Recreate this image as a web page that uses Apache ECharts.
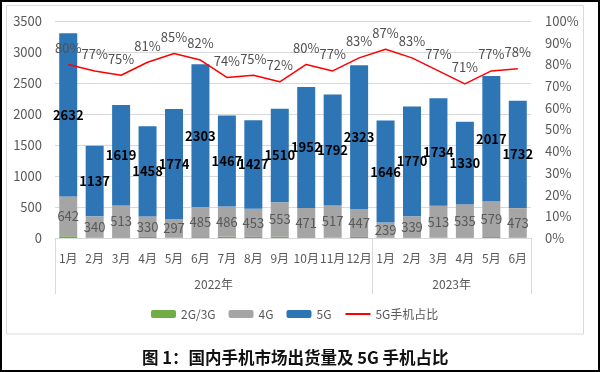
<!DOCTYPE html>
<html>
<head>
<meta charset="utf-8">
<script src="https://cdn.jsdelivr.net/npm/echarts@6/dist/echarts.min.js"></script>
<style>
html,body{margin:0;padding:0;background:#fff;}
#main{width:600px;height:372px;}
</style>
</head>
<body>
<div id="main"></div>
<script>
const months = ['1月','2月','3月','4月','5月','6月','7月','8月','9月','10月','11月','12月','1月','2月','3月','4月','5月','6月'];
const years = ['2022年','2023年'];
const yearSizes = [12, 6];
const g23 = [28,9,12,16,9,14,21,18,22,13,7,17,9,11,8,11,15,9];
const g4 = [642,340,513,330,297,485,486,453,553,471,517,447,239,339,513,535,579,473];
const g5 = [2632,1137,1619,1458,1774,2303,1467,1427,1510,1952,1792,2323,1646,1770,1734,1330,2017,1732];
const share5g = [80,77,75,81,85,82,74,75,72,80,77,83,87,83,77,71,77,78];
const yLeftTicks = {min:0, max:3500, interval:500};
const yRightTicks = {min:0, max:100, interval:10};
const titleText = '图 1：国内手机市场出货量及 5G 手机占比';

const groupStarts = [];
const groupCenters = [];
let acc = 0;
yearSizes.forEach(s => { groupStarts.push(acc); groupCenters.push(acc + s/2); acc += s; });

const FONT = '"Noto Sans CJK SC", "Noto Sans", sans-serif';
const GRAY = '#595959';
const chart = echarts.init(document.getElementById('main'), null, {renderer:'canvas'});
chart.setOption({
  animation: false,
  textStyle: {fontFamily: FONT},
  title: {
    text: titleText,
    left: 137, top: 344,
    textStyle: {fontSize: 16.5, fontWeight: 'bold', color: '#111', fontFamily: FONT}
  },
  graphic: [
    {type:'rect', shape:{x:1, y:1, width:598, height:370}, style:{fill:null, stroke:'#000', lineWidth:2}, silent:true},
    {type:'rect', shape:{x:6.5, y:5.5, width:577, height:328.5}, style:{fill:null, stroke:'#d9d9d9', lineWidth:1}, silent:true}
  ],
  legend: {
    left: 146, top: 303,
    itemWidth: 25, itemHeight: 8, itemGap: 13,
    textStyle: {fontSize: 12, color: GRAY, fontFamily: FONT},
    data: ['2G/3G','4G','5G',{name:'5G手机占比', itemStyle:{opacity:0}}]
  },
  grid: {left: 55, right: 69, top: 21, bottom: 134, containLabel: false},
  xAxis: [
    {
      type: 'category', data: months, position: 'bottom',
      axisLine: {lineStyle: {color: '#d9d9d9'}},
      axisTick: {show: false},
      axisLabel: {color: GRAY, fontSize: 12, margin: 14, interval: 0}
    },
    {
      type: 'category', data: months, position: 'bottom',
      axisLine: {show: false},
      axisLabel: {show: false},
      axisTick: {show: true, length: 56, lineStyle: {color: '#d9d9d9'},
        interval: function (i) { return groupStarts.indexOf(i) >= 0; }}
    },
    {
      type: 'value', min: 0, max: months.length, interval: 3, position: 'bottom',
      axisLine: {show: false}, axisTick: {show: false}, splitLine: {show: false},
      axisLabel: {color: GRAY, fontSize: 12, margin: 40,
        formatter: function (v) { const k = groupCenters.indexOf(v); return k >= 0 ? years[k] : ''; }}
    }
  ],
  yAxis: [
    {
      type: 'value', min: yLeftTicks.min, max: yLeftTicks.max, interval: yLeftTicks.interval,
      axisLine: {show: false}, axisTick: {show: false},
      splitLine: {lineStyle: {color: '#d9d9d9'}},
      axisLabel: {color: GRAY, fontSize: 13, margin: 13, formatter: function (v) { return String(v); }}
    },
    {
      type: 'value', min: yRightTicks.min, max: yRightTicks.max, interval: yRightTicks.interval,
      position: 'right',
      axisLine: {show: false}, axisTick: {show: false}, splitLine: {show: false},
      axisLabel: {color: GRAY, fontSize: 13, margin: 14, formatter: '{value}%'}
    }
  ],
  series: [
    {
      name: '2G/3G', type: 'bar', stack: 'total', data: g23, barWidth: 18,
      itemStyle: {color: '#70AD47'}
    },
    {
      name: '4G', type: 'bar', stack: 'total', data: g4, barWidth: 18,
      itemStyle: {color: '#A5A5A5'},
      label: {show: true, position: 'inside', color: GRAY, fontSize: 13, fontFamily: FONT}
    },
    {
      name: '5G', type: 'bar', stack: 'total', data: g5, barWidth: 18,
      itemStyle: {color: '#2E75B6'},
      label: {show: true, position: 'inside', color: '#000', fontSize: 13, fontWeight: 'bold', fontFamily: FONT}
    },
    {
      name: '5G手机占比', type: 'line', yAxisIndex: 1, data: share5g,
      symbol: 'circle', symbolSize: 0, showSymbol: true, z: 5,
      lineStyle: {color: '#FF0000', width: 1.5}, itemStyle: {color: '#FF0000'},
      label: {show: true, position: 'top', distance: 10, color: '#505050', fontSize: 13, formatter: '{c}%', fontFamily: FONT}
    }
  ]
});
</script>
</body>
</html>
